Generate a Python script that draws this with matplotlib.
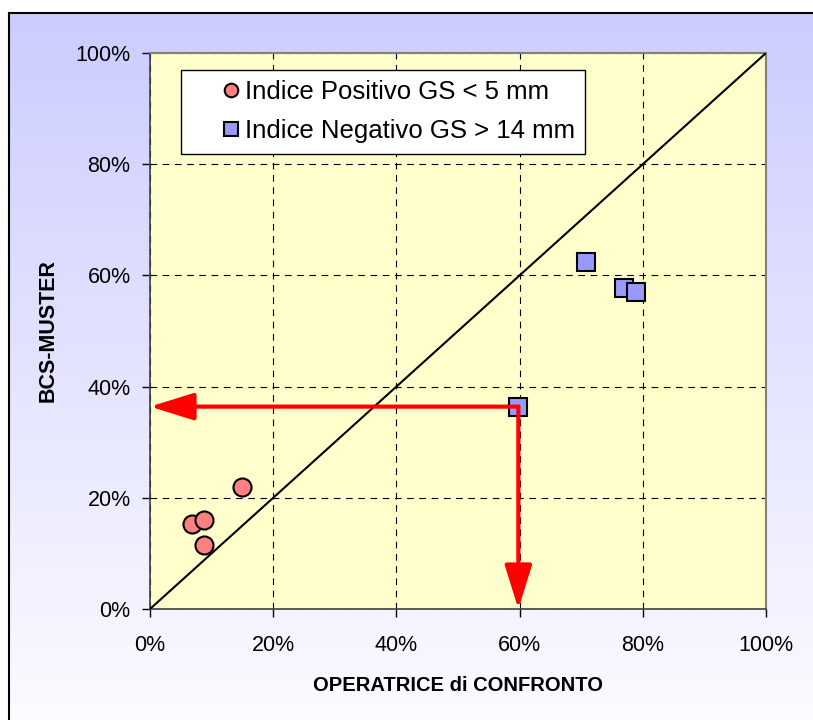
import numpy as np
import matplotlib
matplotlib.use("Agg")
import matplotlib.pyplot as plt
from matplotlib.ticker import PercentFormatter

# ---- data ----
pos_x = [0.149, 0.068, 0.088, 0.088]
pos_y = [0.220, 0.152, 0.160, 0.116]
neg_x = [0.598, 0.708, 0.769, 0.789]
neg_y = [0.364, 0.624, 0.577, 0.570]
pos_label = "Indice Positivo GS < 5 mm"
neg_label = "Indice Negativo GS > 14 mm"
x_label = "OPERATRICE di CONFRONTO"
y_label = "BCS-MUSTER"
ticks = [0, 0.2, 0.4, 0.6, 0.8, 1.0]

plt.rcParams['font.family'] = ['Liberation Sans', 'DejaVu Sans']

W, H = 813, 720
fig = plt.figure(figsize=(W / 100, H / 100), dpi=100)
fig.patch.set_facecolor('white')

# background gradient frame
bg = fig.add_axes([0, 0, 1, 1], zorder=-10)
bg.axis('off')
top_c = np.array([204, 204, 255]) / 255
bot_c = np.array([251, 251, 255]) / 255
t = np.linspace(0, 1, 256)[:, None]
grad = top_c[None, None, :] * (1 - t[:, :, None]) + bot_c[None, None, :] * t[:, :, None]
grad = np.repeat(grad, 2, axis=1)
bg.imshow(grad, extent=[9, W, H, 13], aspect='auto', interpolation='bilinear')
bg.plot([9, 9], [13, H], color='black', lw=1.5)
bg.plot([9, W], [13, 13], color='black', lw=1.5)
bg.set_xlim(0, W)
bg.set_ylim(H, 0)

# main axes
ax = fig.add_axes([150 / W, (H - 609) / H, 616 / W, 556 / H])
ax.set_facecolor('#ffffcc')
ax.set_xlim(0, 1)
ax.set_ylim(0, 1)

ax.set_xticks(ticks)
ax.set_yticks(ticks)
ax.xaxis.set_major_formatter(PercentFormatter(1.0, decimals=0))
ax.yaxis.set_major_formatter(PercentFormatter(1.0, decimals=0))
ax.tick_params(direction='out', length=6, width=1, color='black',
               labelsize=15.5, pad=8)
ax.tick_params(axis='x', pad=13)
ax.grid(True, color='black', linestyle=(0, (6, 5)), lw=0.8)
ax.set_axisbelow(True)

for s in ['top', 'right']:
    ax.spines[s].set_color('#808080')
    ax.spines[s].set_linewidth(1.5)
for s in ['left', 'bottom']:
    ax.spines[s].set_color('#404040')
    ax.spines[s].set_linewidth(1.2)

# diagonal
ax.plot([0, 1], [0, 1], color='black', lw=1.5, zorder=3)

# points
ax.plot(pos_x, pos_y, linestyle='none', marker='o', markersize=13,
        markerfacecolor='#ff8080', markeredgecolor='black', markeredgewidth=1.5,
        label=pos_label, zorder=4)
ax.plot(neg_x, neg_y, linestyle='none', marker='s', markersize=13,
        markerfacecolor='#9999ff', markeredgecolor='black', markeredgewidth=1.5,
        label=neg_label, zorder=4)

# red arrows from highlighted point
px, py = neg_x[0], neg_y[0]
aprops = dict(arrowstyle='-|>,head_length=1.35,head_width=0.42', color='#ff0000',
              lw=3, shrinkA=0, shrinkB=0, mutation_scale=20)
ax.annotate('', xy=(0.0, py), xytext=(px, py), arrowprops=aprops, zorder=5)
ax.annotate('', xy=(px, 0.0), xytext=(px, py), arrowprops=aprops, zorder=5)

ax.set_xlabel(x_label, fontsize=14.5, fontweight='bold', labelpad=14)
ax.set_ylabel(y_label, fontsize=15.5, fontweight='bold', labelpad=12)

leg = ax.legend(loc='upper left', bbox_to_anchor=(0.05, 0.97), borderaxespad=0,
                fontsize=18.5, markerscale=0.75, handlelength=3.1,
                handletextpad=-1.0, fancybox=False, framealpha=1,
                edgecolor='black', borderpad=0.4, labelspacing=0.6)
leg.get_frame().set_linewidth(1)

fig.savefig('out.png', dpi=100)
